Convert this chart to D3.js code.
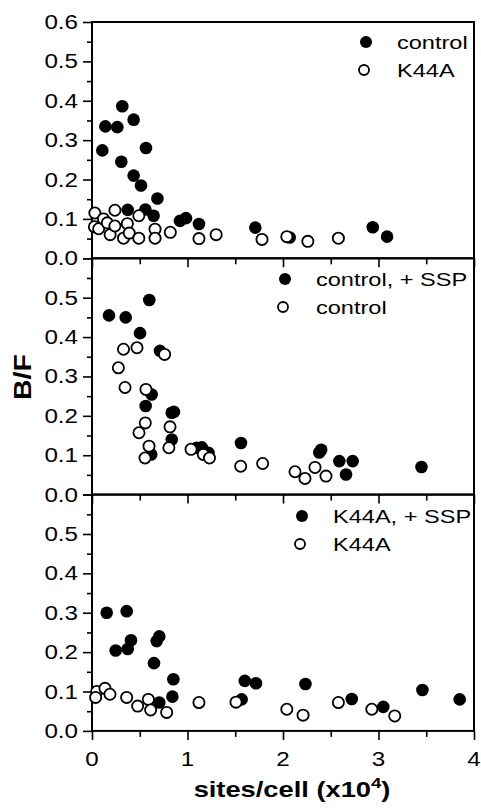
<!DOCTYPE html>
<html>
<head>
<meta charset="utf-8">
<script src="https://cdn.jsdelivr.net/npm/d3@7"></script>
<style>
  body { margin: 0; background: #fff; }
  svg { display: block; }
  text { font-family: "Liberation Sans", Arial, sans-serif; fill: #000; }
</style>
</head>
<body>
<div id="chart"></div>
<script>
// ---- data (x in sites/cell x10^4, y = B/F) ----
const xTicks = [0, 1, 2, 3, 4];
const yTicks = [0, 0.1, 0.2, 0.3, 0.4, 0.5, 0.6];
const yMinor = [0.05, 0.15, 0.25, 0.35, 0.45, 0.55];
const xMinor = [0.5, 1.5, 2.5, 3.5];

// panel 1
const p1Filled = [
  [0.108, 0.274], [0.14, 0.335], [0.265, 0.333], [0.317, 0.386], [0.307, 0.245],
  [0.436, 0.352], [0.565, 0.28], [0.436, 0.21], [0.513, 0.185], [0.685, 0.152],
  [0.374, 0.123], [0.559, 0.124], [0.645, 0.108], [0.921, 0.095], [0.984, 0.102],
  [1.12, 0.087], [1.71, 0.078], [2.07, 0.053], [2.94, 0.079], [3.09, 0.055]
];
const p1Open = [
  [0.03, 0.115], [0.025, 0.08], [0.07, 0.075], [0.12, 0.10], [0.16, 0.09],
  [0.19, 0.06], [0.24, 0.122], [0.24, 0.082], [0.33, 0.051], [0.37, 0.088],
  [0.39, 0.064], [0.49, 0.108], [0.49, 0.051], [0.66, 0.074], [0.66, 0.051],
  [0.82, 0.066], [1.12, 0.05], [1.30, 0.06], [1.78, 0.048], [2.04, 0.055],
  [2.26, 0.043], [2.58, 0.051]
];

// panel 2
const p2Filled = [
  [0.178, 0.455], [0.353, 0.45], [0.60, 0.494], [0.503, 0.41], [0.712, 0.365],
  [0.625, 0.254], [0.562, 0.225], [0.835, 0.208], [0.858, 0.21], [0.835, 0.14],
  [0.62, 0.102], [1.096, 0.119], [1.15, 0.12], [1.22, 0.106], [1.56, 0.131],
  [2.40, 0.114], [2.38, 0.107], [2.59, 0.085], [2.73, 0.085], [2.66, 0.051],
  [3.45, 0.07]
];
const p2Open = [
  [0.276, 0.322], [0.33, 0.369], [0.471, 0.373], [0.346, 0.272], [0.76, 0.356],
  [0.565, 0.267], [0.558, 0.182], [0.492, 0.157], [0.597, 0.123], [0.555, 0.093],
  [0.817, 0.172], [0.805, 0.119], [1.037, 0.115], [1.166, 0.102], [1.23, 0.093],
  [1.557, 0.072], [1.787, 0.079], [2.126, 0.058], [2.23, 0.041], [2.335, 0.069],
  [2.45, 0.047]
];

// panel 3
const p3Filled = [
  [0.154, 0.30], [0.363, 0.304], [0.248, 0.204], [0.374, 0.208], [0.408, 0.23],
  [0.705, 0.24], [0.677, 0.228], [0.649, 0.172], [0.852, 0.131], [0.842, 0.087],
  [0.705, 0.072], [1.60, 0.127], [1.717, 0.121], [1.567, 0.08], [2.235, 0.119],
  [2.72, 0.081], [3.05, 0.061], [3.46, 0.104], [3.85, 0.080]
];
const p3Open = [
  [0.049, 0.10], [0.038, 0.085], [0.136, 0.108], [0.188, 0.093], [0.363, 0.085],
  [0.478, 0.063], [0.59, 0.08], [0.614, 0.053], [0.782, 0.047], [1.12, 0.072],
  [1.508, 0.073], [2.04, 0.055], [2.21, 0.04], [2.58, 0.072], [2.93, 0.055],
  [3.17, 0.038]
];

const legendLabels = [
  ["control", "K44A"],
  ["control, + SSP", "control"],
  ["K44A, + SSP", "K44A"]
];

// ---- layout ----
const W = 481, H = 808;
const left = 92, right = 474, plotTop = 22, panelH = 236.3;
const SX = 1.24; // the figure's lettering is wider than Arial

const svg = d3.select("#chart").append("svg")
  .attr("width", W).attr("height", H);

const x = d3.scaleLinear().domain([0, 4]).range([left, right]);

// text helper, stretched horizontally
function label(g, px, py, str, anchor, size, bold) {
  return g.append("text")
    .attr("transform", "translate(" + px + "," + py + ") scale(" + SX + ",1)")
    .attr("text-anchor", anchor)
    .style("font-size", size + "px")
    .style("font-weight", bold ? "bold" : "normal")
    .text(str);
}

const panels = [
  { filled: p1Filled, open: p1Open, legend: legendLabels[0], lx: 366, ly: 42 },
  { filled: p2Filled, open: p2Open, legend: legendLabels[1], lx: 285, ly: 279 },
  { filled: p3Filled, open: p3Open, legend: legendLabels[2], lx: 302, ly: 516 }
];

panels.forEach(function (p, i) {
  const y0 = plotTop + panelH * (i + 1);
  const y = d3.scaleLinear().domain([0, 0.6]).range([y0, y0 - panelH]);
  const g = svg.append("g");

  // y ticks
  g.append("g")
    .attr("transform", "translate(" + left + ",0)")
    .call(d3.axisLeft(y).tickValues(yTicks).tickSize(9).tickFormat(""))
    .call(a => a.select(".domain").remove())
    .selectAll("line").attr("stroke-width", 1.6);
  g.append("g")
    .attr("transform", "translate(" + left + ",0)")
    .call(d3.axisLeft(y).tickValues(yMinor).tickSize(5).tickFormat(""))
    .call(a => a.select(".domain").remove())
    .selectAll("line").attr("stroke-width", 1.6);

  // x ticks at the bottom of every panel
  g.append("g")
    .attr("transform", "translate(0," + y0 + ")")
    .call(d3.axisBottom(x).tickValues(xTicks).tickSize(9).tickFormat(""))
    .call(a => a.select(".domain").remove())
    .selectAll("line").attr("stroke-width", 1.6);
  g.append("g")
    .attr("transform", "translate(0," + y0 + ")")
    .call(d3.axisBottom(x).tickValues(xMinor).tickSize(6).tickFormat(""))
    .call(a => a.select(".domain").remove())
    .selectAll("line").attr("stroke-width", 1.6);

  // y labels (0.6 only in the top panel)
  yTicks.filter(d => i === 0 || d < 0.55).forEach(function (d) {
    label(g, 78, y(d) + 7, d3.format(".1f")(d), "end", 19.5, false);
  });

  // frame
  g.append("rect")
    .attr("x", left).attr("y", y0 - panelH)
    .attr("width", right - left).attr("height", panelH)
    .attr("fill", "none").attr("stroke", "#000").attr("stroke-width", 2);

  // points
  g.append("g").selectAll("circle")
    .data(p.filled).enter().append("circle")
    .attr("cx", d => x(d[0])).attr("cy", d => y(d[1]))
    .attr("r", 6.3).attr("fill", "#000");
  g.append("g").selectAll("circle")
    .data(p.open).enter().append("circle")
    .attr("cx", d => x(d[0])).attr("cy", d => y(d[1]))
    .attr("r", 5.6).attr("fill", "#fff")
    .attr("stroke", "#000").attr("stroke-width", 1.8);

  // legend
  g.append("circle").attr("cx", p.lx).attr("cy", p.ly).attr("r", 6).attr("fill", "#000");
  g.append("circle").attr("cx", p.lx - 2).attr("cy", p.ly + 28).attr("r", 5)
    .attr("fill", "#fff").attr("stroke", "#000").attr("stroke-width", 1.8);
  label(g, p.lx + 31, p.ly + 7, p.legend[0], "start", 19, false);
  label(g, p.lx + 31, p.ly + 35, p.legend[1], "start", 19, false);

  // x labels only under the last panel
  if (i === panels.length - 1) {
    xTicks.forEach(function (d) {
      label(g, x(d), y0 + 35, d3.format("d")(d), "middle", 19.5, false);
    });
  }
});

// axis titles
const xt = label(svg, 292, 797, "sites/cell (x10", "middle", 22, true);
xt.append("tspan").attr("dy", -9).style("font-size", "15px").text("4");
xt.append("tspan").attr("dy", 9).text(")");

svg.append("text")
  .attr("transform", "translate(31,377) rotate(-90) scale(" + SX + ",1)")
  .attr("text-anchor", "middle")
  .style("font-size", "23px").style("font-weight", "bold")
  .text("B/F");
</script>
</body>
</html>
